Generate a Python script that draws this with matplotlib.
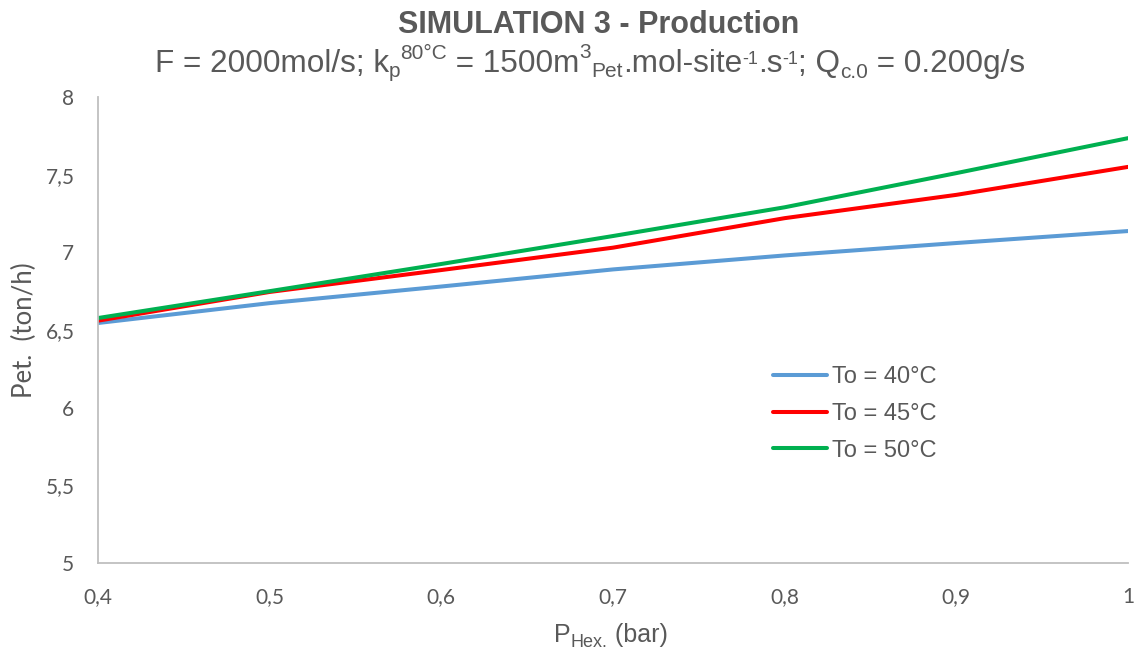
import matplotlib
matplotlib.use("Agg")
import matplotlib.pyplot as plt

plt.rcParams['font.family'] = ['Liberation Sans', 'DejaVu Sans']

pressure = [0.4, 0.5, 0.6, 0.7, 0.8, 0.9, 1.0]
to40 = [6.545, 6.673, 6.78, 6.89, 6.98, 7.06, 7.137]
to45 = [6.56, 6.745, 6.886, 7.03, 7.22, 7.37, 7.55]
to50 = [6.577, 6.75, 6.925, 7.105, 7.29, 7.51, 7.735]
series_labels = ['To = 40°C', 'To = 45°C', 'To = 50°C']
xticks = [0.4, 0.5, 0.6, 0.7, 0.8, 0.9, 1.0]
xtick_labels = ['0,4', '0,5', '0,6', '0,7', '0,8', '0,9', '1']
yticks = [5, 5.5, 6, 6.5, 7, 7.5, 8]
ytick_labels = ['5', '5,5', '6', '6,5', '7', '7,5', '8']

W, H = 1138, 650
gray = '#595959'
fig = plt.figure(figsize=(W/100, H/100), dpi=100)
ax = fig.add_axes([98/W, 1-563/H, (1128-98)/W, (563-97)/H])

colors = ['#5B9BD5', '#FF0000', '#00B050']
for ys, c, lab in zip([to40, to45, to50], colors, series_labels):
    ax.plot(pressure, ys, color=c, lw=2.9, label=lab, solid_capstyle='round',
            solid_joinstyle='round')

ax.set_xlim(0.4, 1.0)
ax.set_ylim(5, 8)
ax.set_xticks(xticks)
ax.set_xticklabels(xtick_labels)
ax.set_yticks(yticks)
ax.set_yticklabels(ytick_labels)
ax.tick_params(length=0, labelsize=15, colors=gray)
for lab in ax.get_xticklabels() + ax.get_yticklabels():
    lab.set_fontfamily(['Lato', 'DejaVu Sans'])
ax.tick_params(axis='x', pad=17)
ax.tick_params(axis='y', pad=17)
for s in ['top', 'right']:
    ax.spines[s].set_visible(False)
for s in ['left', 'bottom']:
    ax.spines[s].set_color('#BFBFBF')
    ax.spines[s].set_linewidth(1.3)

ax.set_ylabel('Pet.  (ton/h)', fontsize=18.5, color=gray, family=['Lato', 'DejaVu Sans'],
              va='center', ha='center')
ax.yaxis.set_label_coords(24/W, 1-330/H, transform=fig.transFigure)

leg = ax.legend(loc='center left', bbox_to_anchor=((773-98)/1030, (563-414)/466),
                frameon=False, fontsize=17, handlelength=2.3, handletextpad=0.2,
                labelspacing=0.62, labelcolor=gray, borderpad=0, borderaxespad=0)
for h in leg.legend_handles:
    h.set_linewidth(2.9)

renderer = fig.canvas.get_renderer()


def text_width(s, size, weight='normal'):
    t1 = fig.text(0, 0, 'x' + s + 'x', fontsize=size, fontweight=weight)
    t2 = fig.text(0, 0, 'xx', fontsize=size, fontweight=weight)
    w = t1.get_window_extent(renderer).width - t2.get_window_extent(renderer).width
    t1.remove()
    t2.remove()
    return w


def draw_pieces(pieces, x_px, base_px, center=False):
    widths = [text_width(p[0], p[1]) for p in pieces]
    if center:
        x_px = x_px - sum(widths) / 2
    for (txt, size, dy), w in zip(pieces, widths):
        fig.text(x_px / W, 1 - (base_px - dy) / H, txt, fontsize=size, color=gray,
                 ha='left', va='baseline')
        x_px += w


fig.text(599 / W, 1 - 33 / H, 'SIMULATION 3 - Production', ha='center', va='baseline',
         fontsize=22, fontweight='bold', color=gray)

sub = [
    ('F = 2000mol/s; k', 22.7, 0),
    ('p', 15, -5),
    ('80°C', 15, 13),
    (' = 1500m', 22.7, 0),
    ('3', 15, 14),
    ('Pet', 15, -5),
    ('.mol-site', 22.7, 0),
    ('-1', 13, 8),
    ('.s', 22.7, 0),
    ('-1', 13, 8),
    ('; Q', 22.7, 0),
    ('c.0', 15, -6),
    (' = 0.200g/s', 22.7, 0),
]
draw_pieces(sub, 590, 72, center=True)

xlab = [
    ('P', 18, 0),
    ('Hex.', 13, -5),
    (' (bar)', 18, 0),
]
draw_pieces(xlab, 611, 642, center=True)

fig.savefig('out.png', dpi=100)
